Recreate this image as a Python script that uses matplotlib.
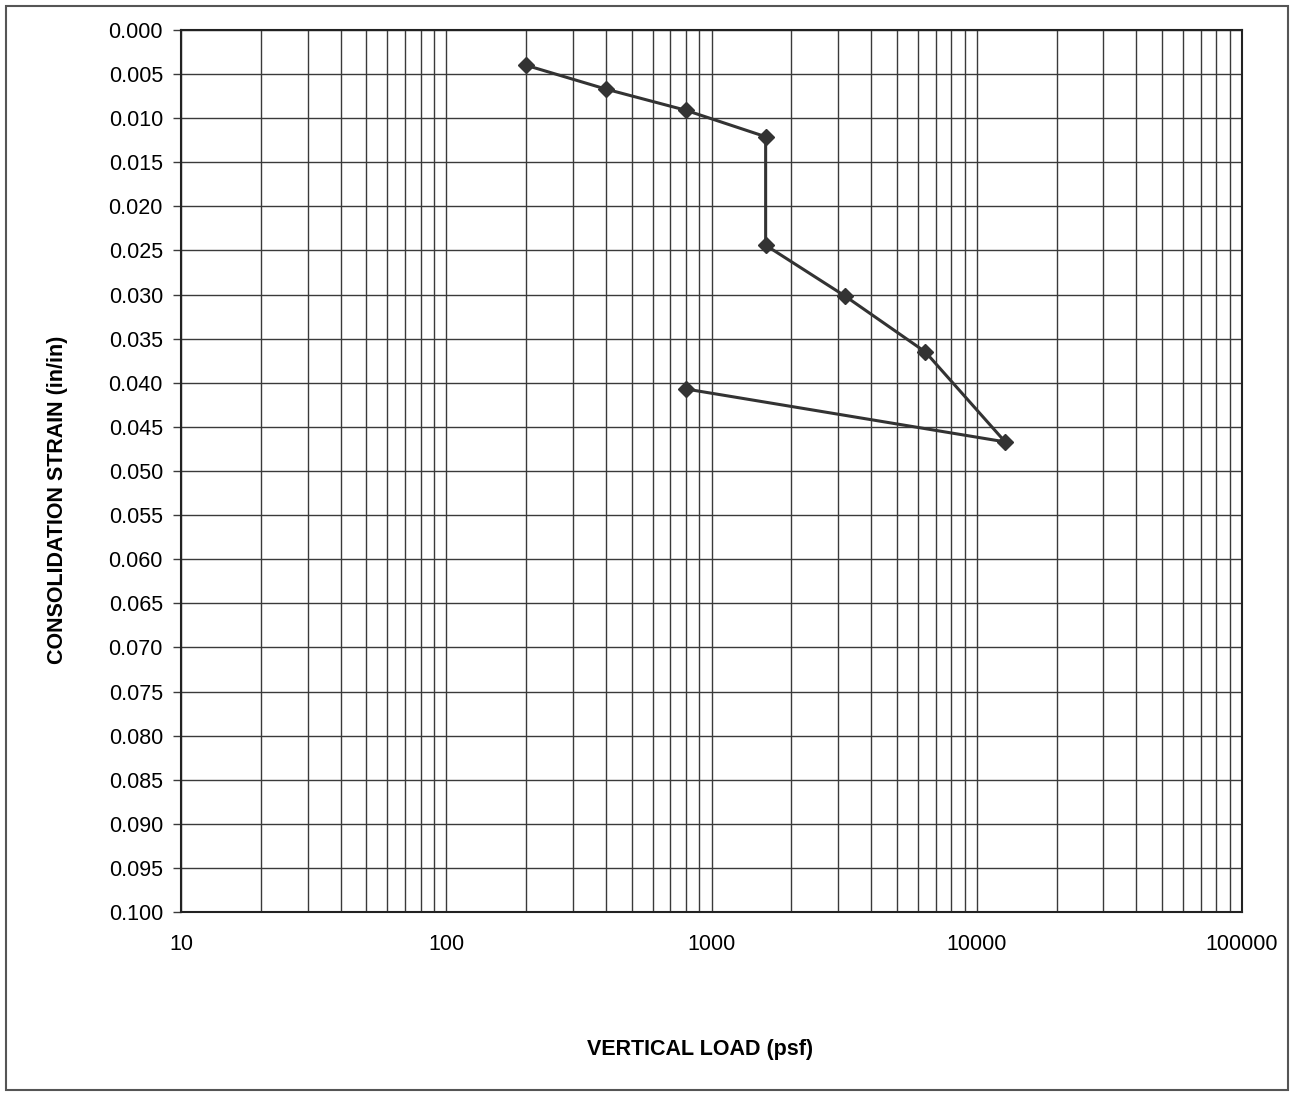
# consolidation test: strain vs vertical load on log axis

import matplotlib
matplotlib.use('Agg')
import matplotlib.pyplot as plt
from matplotlib.ticker import LogLocator, MultipleLocator, FixedFormatter, FixedLocator
from matplotlib.patches import Rectangle

plt.rcParams['font.family'] = ['Liberation Sans', 'DejaVu Sans']

load_psf = [200, 400, 800, 1600, 1600, 3200, 6400, 12800, 800]
strain = [0.0040, 0.0067, 0.0091, 0.0121, 0.0244, 0.0302, 0.0365, 0.0467, 0.0407]

x_ticks = [10, 100, 1000, 10000, 100000]
x_labels = ['10', '100', '1000', '10000', '100000']

fig = plt.figure(figsize=(12.98, 10.95), dpi=100)
ax = fig.add_axes([181 / 1298, 1 - 912 / 1095, (1242 - 181) / 1298, (912 - 30) / 1095])

gc = '#3a3a3a'
ax.plot(load_psf, strain, color='#333333', lw=2.2, marker='D', ms=8, zorder=5)

ax.set_xscale('log')
ax.set_xlim(10, 100000)
ax.set_ylim(0.1, 0.0)

ax.xaxis.set_major_locator(FixedLocator(x_ticks))
ax.xaxis.set_major_formatter(FixedFormatter(x_labels))
ax.xaxis.set_minor_locator(LogLocator(base=10, subs=range(2, 10), numticks=20))
ax.xaxis.set_minor_formatter(plt.NullFormatter())
ax.yaxis.set_major_locator(MultipleLocator(0.005))
ax.yaxis.set_major_formatter(plt.FuncFormatter(lambda v, p: f'{v:.3f}'))

ax.grid(True, which='major', color=gc, lw=1.0)
ax.grid(True, which='minor', axis='x', color=gc, lw=1.0)

ax.tick_params(axis='x', which='both', length=0, pad=16, labelsize=15.5)
ax.tick_params(axis='y', which='major', length=6, width=1, pad=7, labelsize=15.5, color=gc)
for s in ax.spines.values():
    s.set_color('#222222')
    s.set_linewidth(1.5)

fig.text(700 / 1298, 1 - 1050 / 1095, 'VERTICAL LOAD (psf)', ha='center', va='center',
         fontsize=15.5, fontweight='bold')
fig.text(58 / 1298, 1 - 500 / 1095, 'CONSOLIDATION STRAIN (in/in)', ha='center', va='center',
         rotation=90, fontsize=15.5, fontweight='bold')

# outer frame
fig.patches.append(Rectangle((6 / 1298, 5 / 1095), 1282 / 1298, 1084 / 1095, transform=fig.transFigure,
                             fill=False, edgecolor='#555555', lw=1.5))

fig.savefig('out.png', dpi=100)
